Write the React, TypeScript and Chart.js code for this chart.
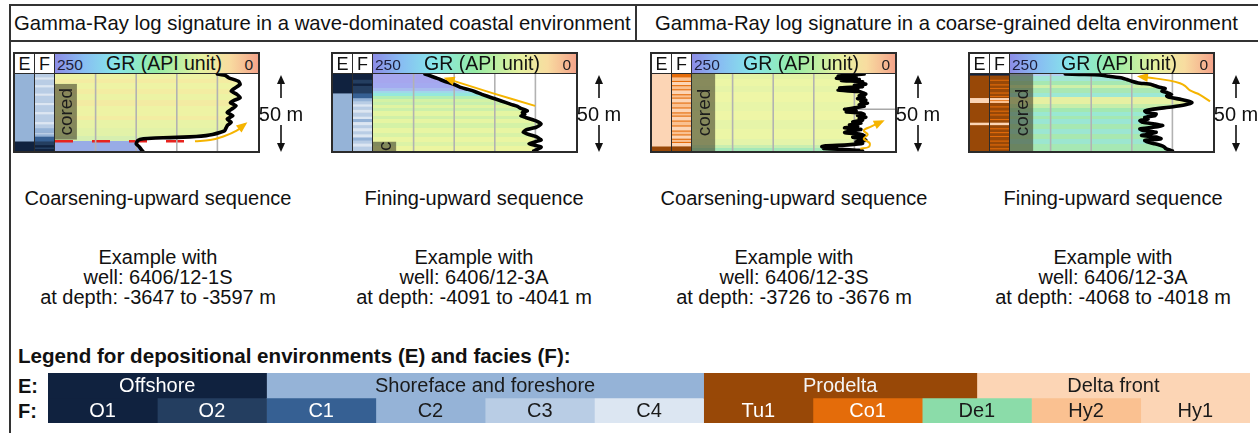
import React, { useEffect, useRef } from "react";
import { Chart, registerables } from "chart.js";

Chart.register(...registerables);

const FONT = '"Liberation Sans", Arial, Helvetica, sans-serif';

// ---------------- Legend data ----------------
const faciesCodes = ["O1", "O2", "C1", "C2", "C3", "C4", "Tu1", "Co1", "De1", "Hy2", "Hy1"];
const faciesSpan = [1, 1, 1, 1, 1, 1, 1, 1, 1, 1, 1];
const envNames = ["Offshore", "Shoreface and foreshore", "Prodelta", "Delta front"];
const envCodes = ["Off", "Sho", "Pro", "Del"];
const envSpan = [2, 4, 2.5, 2.5];
const legendRows = ["E:", "F:"];

// ---------------- Panel texts ----------------
const panelTitles = [
  "Coarsening-upward sequence",
  "Fining-upward sequence",
  "Coarsening-upward sequence",
  "Fining-upward sequence",
];
const panelWells = ["6406/12-1S", "6406/12-3A", "6406/12-3S", "6406/12-3A"];
const panelDepths = ["-3647 to -3597 m", "-4091 to -4041 m", "-3726 to -3676 m", "-4068 to -4018 m"];
const grTicks = [50, 100, 150, 200];

// ---------------- GR logs (depth in m below top of the 50 m window, GR in API) ----------------
const p1Depth = [0, 1, 2.5, 4.7, 6.8, 9, 11.1, 13.2, 15.4, 17, 18.6, 20.7, 23, 25, 27.1, 29.3, 31.4, 33, 34.6, 36.8, 38, 39.3, 40, 40.6, 41, 41.3, 41.6, 42.1, 43.2, 45.3, 47.4, 49.6, 50];
const p1GR = [50, 40, 36, 24, 22, 28, 33, 26, 22, 29, 34, 27, 33, 38, 31, 38, 33, 37, 39, 41, 47, 56, 64, 76, 92, 108, 126, 141, 148, 150, 146, 143, 142];
const p2Depth = [0, 1.5, 3, 4.7, 6.8, 8.5, 10, 11.5, 13.2, 15.4, 17.5, 19.7, 21, 22.3, 23.9, 25, 26.1, 27.2, 28.2, 30.3, 32.5, 34.6, 36.2, 37.8, 39.3, 40.7, 42.9, 45.3, 47.4, 49.6, 50];
const p2GR = [186, 178, 170, 162, 150, 143, 133, 124, 116, 104, 92, 80, 72, 68, 60, 66, 63, 68, 62, 50, 43, 49, 61, 65, 58, 49, 43, 58, 43, 50, 52];
const p3Depth = [0, 0.7, 1.4, 2.1, 2.8, 3.5, 4.2, 5, 5.8, 6.6, 7.4, 8.2, 9, 9.8, 10.6, 11.4, 12.2, 13, 14, 15, 16, 17, 18, 19, 20, 21, 22, 23, 23.8, 24.6, 25.4, 26.2, 27, 28, 29, 30, 31, 32, 33, 34, 35, 36, 37, 38, 39, 40, 41, 42, 43, 44, 45, 46, 46.6, 47.2, 47.8, 48.4, 49, 49.6, 50];
const p3GR = [38, 52, 70, 48, 72, 44, 66, 40, 44, 36, 50, 40, 68, 46, 70, 44, 40, 36, 44, 38, 46, 36, 42, 34, 44, 38, 50, 62, 48, 60, 42, 38, 46, 36, 44, 40, 52, 42, 56, 46, 62, 42, 54, 62, 44, 38, 52, 42, 36, 48, 40, 58, 86, 90, 72, 88, 62, 44, 40];
const p4Depth = [0, 0.3, 0.6, 1.5, 2.6, 3.6, 4.7, 5.8, 6.8, 8.5, 9.4, 11.1, 12.2, 13.2, 14.2, 15, 16.5, 17.6, 18.6, 20, 21.4, 22.9, 24, 25, 26, 27.1, 28.2, 29.3, 30.3, 31.4, 32.5, 33.5, 34.6, 35.7, 36.7, 37.8, 38.9, 39.9, 41, 42, 43.2, 44.2, 45.3, 46.4, 47.4, 48.5, 49.6, 50];
const p4GR = [182, 165, 140, 128, 112, 106, 100, 92, 76, 67, 59, 63, 56, 51, 57, 55, 39, 30, 26, 34, 51, 75, 84, 82, 70, 72, 84, 80, 90, 86, 72, 62, 74, 90, 86, 70, 78, 88, 70, 64, 84, 80, 72, 64, 60, 58, 52, 50];

// trend arrows
const p1ArrowDepth = [43.6, 42.9, 40.6, 36.8, 32.5];
const p1ArrowGR = [77.6, 59, 42.7, 26.3, 16];
const p2ArrowDepth = [20.7, 12.4, 3.0];
const p2ArrowGR = [50.4, 103, 159.5];
const p3ArrowDepth = [48.5, 47.4, 44.9, 42.1, 39.3, 36.7, 34.2, 30.8];
const p3ArrowGR = [42.7, 32.4, 31.2, 38.6, 33.6, 38.6, 29.6, 16];
const p4ArrowDepth = [17.8, 13.5, 10.7, 7.7, 6.0, 4.3, 3.0, 1.7];
const p4ArrowGR = [3.7, 16, 28.3, 34.5, 40.6, 53, 69.3, 90];

// cored intervals [top, bottom] and their GR edge
const p1Cored = [6.4, 42.7];
const p2Cored = [43.8, 50];
const p3Cored = [0, 50];
const p4Cored = [0, 50];
const coredEdgeGR = [223, 221.5, 221.5, 221.5];
const coredLabels = ["cored", "c", "cored", "cored"];

// surfaces
const p1SurfaceDepth = [43.6, 43.6];
const p1SurfaceGR = [250, 90];
const p3MarkDepth = [22.9, 22.9];
const p3MarkGR = [50, 0];

// environment (E) and facies (F) columns: [code, top, bottom]
type Seg = [string, number, number];
const p1Env: Seg[] = [["Sho", 0, 43.6], ["Off", 43.6, 50]];
const p1Fac: Seg[] = [["C3", 0, 2], ["C4", 2, 3.5], ["C3", 3.5, 7], ["C4", 7, 8.5], ["C3", 8.5, 12.5], ["C4", 12.5, 14], ["C3", 14, 18.5], ["C4", 18.5, 20], ["C3", 20, 24.5], ["C4", 24.5, 26], ["C3", 26, 31], ["C4", 31, 32.5], ["C3", 32.5, 35], ["C2", 35, 38], ["C3", 38, 39], ["C2", 39, 40.5], ["C1", 40.5, 43.6], ["O2", 43.6, 46], ["O1", 46, 47.5], ["O2", 47.5, 48.5], ["O1", 48.5, 50]];
const p2Env: Seg[] = [["Off", 0, 12.4], ["Sho", 12.4, 50]];
const p2Fac: Seg[] = [["O1", 0, 3.5], ["O2", 3.5, 6], ["O1", 6, 7.5], ["O2", 7.5, 12.4], ["C1", 12.4, 15.5], ["C2", 15.5, 17.5], ["C3", 17.5, 19.5], ["C4", 19.5, 21], ["C3", 21, 23], ["C4", 23, 25], ["C3", 25, 27.5], ["C4", 27.5, 29], ["C2", 29, 31], ["C4", 31, 33], ["C3", 33, 35], ["C4", 35, 37], ["C3", 37, 39], ["C4", 39, 41], ["C2", 41, 43], ["C3", 43, 45], ["C4", 45, 47], ["C3", 47, 50]];
const p3Env: Seg[] = [["Del", 0, 46.8], ["Pro", 46.8, 50]];
const p3Fac: Seg[] = [["Co1", 0, 2], ["Hy2", 2, 4.3], ["Co1", 4.3, 5], ["Hy1", 5, 7], ["Co1", 7, 7.7], ["Hy2", 7.7, 9.7], ["Co1", 9.7, 10.4], ["Hy1", 10.4, 12.9], ["Co1", 12.9, 13.6], ["Hy2", 13.6, 15.1], ["Co1", 15.1, 15.8], ["Hy1", 15.8, 18.3], ["Co1", 18.3, 19], ["Hy2", 19, 21.5], ["Co1", 21.5, 22.2], ["Hy1", 22.2, 24.7], ["Co1", 24.7, 25.4], ["Hy2", 25.4, 26.8], ["Co1", 26.8, 27.5], ["Hy1", 27.5, 30], ["Co1", 30, 30.7], ["Hy2", 30.7, 33.2], ["Co1", 33.2, 33.9], ["Hy1", 33.9, 36.5], ["Co1", 36.5, 37.2], ["Hy2", 37.2, 39], ["Co1", 39, 39.7], ["Hy1", 39.7, 41.8], ["Co1", 41.8, 42.5], ["Hy2", 42.5, 43.9], ["Co1", 43.9, 44.6], ["Hy1", 44.6, 46.8], ["Tu1", 46.8, 50]];
const p4Env: Seg[] = [["Off", 0, 0.8], ["Pro", 0.8, 15.4], ["Del", 15.4, 18.6], ["Pro", 18.6, 31.4], ["Del", 31.4, 33], ["Pro", 33, 50]];
const p4Fac: Seg[] = [["O1", 0, 0.8], ["Tu1", 0.8, 3.5], ["Co1", 3.5, 4.2], ["Tu1", 4.2, 6.5], ["Co1", 6.5, 7.2], ["Tu1", 7.2, 8.8], ["Co1", 8.8, 9.5], ["Tu1", 9.5, 11.8], ["Co1", 11.8, 12.5], ["Tu1", 12.5, 14], ["Co1", 14, 14.7], ["Tu1", 14.7, 15.4], ["Hy1", 15.4, 16.8], ["Co1", 16.8, 17.3], ["Hy2", 17.3, 18.6], ["Tu1", 18.6, 20.8], ["Co1", 20.8, 21.5], ["Tu1", 21.5, 23.6], ["Co1", 23.6, 24.3], ["Tu1", 24.3, 26], ["Co1", 26, 26.7], ["Tu1", 26.7, 29], ["Co1", 29, 29.7], ["Tu1", 29.7, 31.4], ["Hy1", 31.4, 33], ["Tu1", 33, 35], ["Co1", 35, 35.7], ["Tu1", 35.7, 37.5], ["Co1", 37.5, 38.2], ["Tu1", 38.2, 40], ["Co1", 40, 40.7], ["Tu1", 40.7, 43], ["Co1", 43, 43.7], ["Tu1", 43.7, 45.5], ["Co1", 45.5, 46.2], ["Tu1", 46.2, 48], ["Co1", 48, 48.7], ["Tu1", 48.7, 50]];

// ---------------- Styles ----------------
const FACIES_COLOR: Record<string, string> = {
  O1: "#10223f", O2: "#243e60", C1: "#366093", C2: "#95b3d7", C3: "#b9cde5", C4: "#dce6f2",
  Tu1: "#984807", Co1: "#e46c0a", De1: "#8bdca9", Hy2: "#fac191", Hy1: "#fcd5b5",
};
const FACIES_TEXT: Record<string, string> = {
  O1: "#ffffff", O2: "#ffffff", C1: "#ffffff", C2: "#1a1a1a", C3: "#1a1a1a", C4: "#1a1a1a",
  Tu1: "#ffffff", Co1: "#ffffff", De1: "#1a1a1a", Hy2: "#1a1a1a", Hy1: "#1a1a1a",
};
const ENV_COLOR: Record<string, string> = { Off: "#10223f", Sho: "#95b3d7", Pro: "#984807", Del: "#fcd5b5" };
const ENV_TEXT: Record<string, string> = { Off: "#ffffff", Sho: "#1a1a1a", Pro: "#f4f4f4", Del: "#1a1a1a" };

const p1Bands: [number, string][] = [[0, "#eef3a4"], [3, "#f4eca2"], [6, "#eef3a4"], [10, "#f3eda2"], [13, "#ecf3a4"], [17, "#f3eba2"], [21, "#eef3a4"], [27, "#f3eda2"], [30, "#e8f3a6"], [35, "#e2f2a8"], [40, "#d6efb0"], [43.6, "#98ace6"]];
const p2Bands: [number, string][] = [[0, "#a6a6ee"], [6, "#a4aaf0"], [9, "#a8bcee"], [11, "#a0d8ea"], [12.5, "#94e8dc"], [14, "#b4eeb4"], [16, "#d4f2a4"], [18, "#c8f0ac"], [20, "#e0f4a2"], [22, "#ccf0aa"], [24, "#e4f5a2"], [27, "#d0f0a8"], [29, "#e6f5a2"], [32, "#d4f2a6"], [35, "#e8f5a2"], [38, "#d8f2a6"], [41, "#eaf5a2"], [44, "#dcf3a6"], [47, "#ecf5a0"]];
const p3Bands: [number, string][] = [[0, "#e4f4a6"], [3, "#ecf6a6"], [8, "#e6f4a8"], [12, "#eef6a6"], [18, "#e8f5a8"], [24, "#eef6a6"], [30, "#e6f4a8"], [36, "#ecf6a6"], [42, "#e4f4aa"], [46, "#c8eeb0"], [48, "#a4e8b8"]];
const p4Bands: [number, string][] = [[0, "#b4d0f2"], [1.5, "#a2e6d6"], [4.7, "#a6e8b2"], [7.3, "#cff0a8"], [9.4, "#a8e8b4"], [12.2, "#9de8d4"], [15, "#e6f0a2"], [19.2, "#c6eeaa"], [21.8, "#a2e8b2"], [24.4, "#9ae8d2"], [27.1, "#a4e8b2"], [29.3, "#9ae6d4"], [32.5, "#a6e8b2"], [35.7, "#9ce6d2"], [38.9, "#a8e8b0"], [42.1, "#9ce6d0"], [45.3, "#a6e8b4"]];

const panelLeft = [13, 331, 650, 968];
const textCenter = [158, 474, 794, 1113];

const pts = (d: number[], g: number[]) => d.map((v, i) => ({ x: g[i], y: v }));

const panels = [
  { depth: p1Depth, gr: p1GR, bands: p1Bands, cored: p1Cored, arrow: pts(p1ArrowDepth, p1ArrowGR), env: p1Env, fac: p1Fac,
    extras: [{ data: pts(p1SurfaceDepth, p1SurfaceGR), color: "#e8231e", width: 2.5, dash: [18, 19] }] },
  { depth: p2Depth, gr: p2GR, bands: p2Bands, cored: p2Cored, arrow: pts(p2ArrowDepth, p2ArrowGR), env: p2Env, fac: p2Fac, extras: [] },
  { depth: p3Depth, gr: p3GR, bands: p3Bands, cored: p3Cored, arrow: pts(p3ArrowDepth, p3ArrowGR), env: p3Env, fac: p3Fac,
    extras: [{ data: pts(p3MarkDepth, p3MarkGR), color: "#a8a8a8", width: 1.5, dash: [] }] },
  { depth: p4Depth, gr: p4GR, bands: p4Bands, cored: p4Cored, arrow: pts(p4ArrowDepth, p4ArrowGR), env: p4Env, fac: p4Fac, extras: [] },
];

// ---------------- plugins ----------------
const logDecor = {
  id: "logDecor",
  beforeDatasetDraw(chart: any, args: any) {
    const ds = chart.data.datasets[args.index];
    if (ds.kind !== "curve") return;
    const { ctx, chartArea } = chart;
    const xs = chart.scales.x;
    ctx.save();
    ctx.strokeStyle = "#b2b2b2";
    ctx.lineWidth = 1.6;
    for (const v of grTicks) {
      const px = xs.getPixelForValue(v);
      ctx.beginPath();
      ctx.moveTo(px, chartArea.top);
      ctx.lineTo(px, chartArea.bottom);
      ctx.stroke();
    }
    ctx.restore();
  },
  afterDatasetsDraw(chart: any) {
    const { ctx } = chart;
    const xs = chart.scales.x;
    const ys = chart.scales.y;
    chart.data.datasets.forEach((ds: any, i: number) => {
      if (ds.kind === "arrow") {
        const el = chart.getDatasetMeta(i).data;
        const last = el[el.length - 1];
        const prev = el[el.length - 2];
        const ang = Math.atan2(last.y - prev.y, last.x - prev.x);
        ctx.save();
        ctx.translate(last.x, last.y);
        ctx.rotate(ang);
        ctx.fillStyle = ds.borderColor;
        ctx.beginPath();
        ctx.moveTo(3, 0);
        ctx.lineTo(-8, -4.5);
        ctx.lineTo(-8, 4.5);
        ctx.closePath();
        ctx.fill();
        ctx.restore();
      }
      if (ds.kind === "cored") {
        const cx = (xs.getPixelForValue(ds.data[0].x) + xs.getPixelForValue(250)) / 2;
        const cy = (ys.getPixelForValue(ds.data[0].y) + ys.getPixelForValue(ds.data[1].y)) / 2;
        ctx.save();
        ctx.translate(cx + 1, cy);
        ctx.rotate(-Math.PI / 2);
        ctx.fillStyle = "#1c1c1c";
        ctx.font = `19px ${FONT}`;
        ctx.textAlign = "center";
        ctx.textBaseline = "middle";
        ctx.fillText(ds.label, 0, 0);
        ctx.restore();
      }
    });
  },
};

const barLabels = {
  id: "barLabels",
  afterDatasetsDraw(chart: any) {
    const { ctx } = chart;
    chart.data.datasets.forEach((ds: any, i: number) => {
      const meta = chart.getDatasetMeta(i);
      meta.data.forEach((el: any, j: number) => {
        if (ds.data[j] == null) return;
        const p = el.getProps(["x", "y", "base"], true);
        ctx.save();
        ctx.fillStyle = ds.labelColor;
        ctx.font = `20px ${FONT}`;
        ctx.textAlign = "center";
        ctx.textBaseline = "middle";
        ctx.fillText(ds.label, (p.x + p.base) / 2, p.y + 1);
        ctx.restore();
      });
    });
  },
};

const baseOpts = {
  animation: false as const,
  responsive: false,
  maintainAspectRatio: false,
  layout: { padding: 0 },
  plugins: { legend: { display: false }, tooltip: { enabled: false } },
};

// ---------------- components ----------------
function LogChart({ idx }: { idx: number }) {
  const ref = useRef<HTMLCanvasElement>(null);
  useEffect(() => {
    const p = panels[idx];
    const bands = p.bands;
    const datasets: any[] = [];
    datasets.push({
      kind: "fill",
      data: pts(p.depth, p.gr),
      borderWidth: 0,
      pointRadius: 0,
      tension: 0.15,
      fill: { value: 250 },
      order: 6,
      backgroundColor: (c: any) => {
        const chart = c.chart;
        const area = chart.chartArea;
        if (!area) return "transparent";
        const ys = chart.scales.y;
        const h = area.bottom - area.top;
        const g = chart.ctx.createLinearGradient(0, area.top, 0, area.bottom);
        const clamp = (v: number) => Math.max(0, Math.min(1, v));
        bands.forEach(([d, col], i) => {
          const next = i < bands.length - 1 ? bands[i + 1][0] : 50;
          g.addColorStop(clamp((ys.getPixelForValue(d) - area.top) / h), col);
          g.addColorStop(clamp((ys.getPixelForValue(next) - area.top) / h - 0.0001), col);
        });
        return g;
      },
    });
    datasets.push({
      kind: "cored",
      label: coredLabels[idx],
      data: [{ x: coredEdgeGR[idx], y: p.cored[0] }, { x: coredEdgeGR[idx], y: p.cored[1] }],
      borderWidth: 0,
      pointRadius: 0,
      fill: { value: 250 },
      backgroundColor: "rgba(62,60,38,0.58)",
      order: 5,
    });
    p.extras.forEach((e: any) => {
      datasets.push({
        kind: "extra",
        data: e.data,
        borderColor: e.color,
        borderWidth: e.width,
        borderDash: e.dash,
        pointRadius: 0,
        fill: false,
        order: 4,
      });
    });
    datasets.push({
      kind: "curve",
      data: pts(p.depth, p.gr),
      borderColor: "#000000",
      borderWidth: 3.6,
      borderJoinStyle: "round",
      borderCapStyle: "round",
      pointRadius: 0,
      tension: 0.15,
      fill: false,
      order: 2,
    });
    datasets.push({
      kind: "arrow",
      data: p.arrow,
      borderColor: "#f5b400",
      borderWidth: 2,
      pointRadius: 0,
      tension: 0.35,
      fill: false,
      order: 1,
    });
    const chart = new Chart(ref.current as HTMLCanvasElement, {
      type: "line",
      data: { datasets },
      options: {
        ...baseOpts,
        indexAxis: "y",
        scales: {
          x: { type: "linear", min: 0, max: 250, reverse: true, display: false },
          y: { type: "linear", min: 0, max: 50, reverse: true, display: false },
        },
      } as any,
      plugins: [logDecor],
    });
    return () => chart.destroy();
  }, [idx]);
  return <canvas ref={ref} width={203} height={77} style={{ display: "block", width: 203, height: 77 }} />;
}

function ColumnChart({ segs, colors }: { segs: Seg[]; colors: Record<string, string> }) {
  const ref = useRef<HTMLCanvasElement>(null);
  useEffect(() => {
    const datasets = segs.map(([code, a, b]) => ({
      label: code,
      data: [[a, b]],
      backgroundColor: colors[code],
      borderWidth: 0,
      barPercentage: 1,
      categoryPercentage: 1,
      grouped: false,
    }));
    const chart = new Chart(ref.current as HTMLCanvasElement, {
      type: "bar",
      data: { labels: [""], datasets },
      options: {
        ...baseOpts,
        scales: {
          x: { display: false },
          y: { display: false, min: 0, max: 50, reverse: true },
        },
      } as any,
    });
    return () => chart.destroy();
  }, [segs, colors]);
  return <canvas ref={ref} width={19} height={77} style={{ display: "block", width: 19, height: 77 }} />;
}

function LegendChart() {
  const ref = useRef<HTMLCanvasElement>(null);
  useEffect(() => {
    const datasets: any[] = [];
    let s = 0;
    envCodes.forEach((code, i) => {
      datasets.push({
        label: envNames[i],
        data: [[s, s + envSpan[i]], null],
        backgroundColor: ENV_COLOR[code],
        labelColor: ENV_TEXT[code],
        borderWidth: 0,
        barPercentage: 1,
        categoryPercentage: 1,
        grouped: false,
      });
      s += envSpan[i];
    });
    s = 0;
    faciesCodes.forEach((code, i) => {
      datasets.push({
        label: code,
        data: [null, [s, s + faciesSpan[i]]],
        backgroundColor: FACIES_COLOR[code],
        labelColor: FACIES_TEXT[code],
        borderWidth: 0,
        barPercentage: 1,
        categoryPercentage: 1,
        grouped: false,
      });
      s += faciesSpan[i];
    });
    const total = faciesSpan.reduce((a, b) => a + b, 0);
    const chart = new Chart(ref.current as HTMLCanvasElement, {
      type: "bar",
      data: { labels: legendRows, datasets },
      options: {
        ...baseOpts,
        indexAxis: "y",
        scales: {
          x: { type: "linear", min: 0, max: total, display: false },
          y: { display: false },
        },
      } as any,
      plugins: [barLabels],
    });
    return () => chart.destroy();
  }, []);
  return <canvas ref={ref} width={1202} height={50} style={{ display: "block", width: 1202, height: 50 }} />;
}

function ScaleArrow({ x }: { x: number }) {
  return (
    <div style={{ position: "absolute", left: x - 30, top: 72, width: 60, height: 84 }}>
      <svg width={60} height={84} style={{ position: "absolute", left: 0, top: 0 }}>
        <line x1={30} y1={8} x2={30} y2={26} stroke="#111" strokeWidth={1.6} />
        <polygon points="30,3 26,12 34,12" fill="#111" />
        <line x1={30} y1={53} x2={30} y2={74} stroke="#111" strokeWidth={1.6} />
        <polygon points="30,80 26,71 34,71" fill="#111" />
      </svg>
      <div style={{ position: "absolute", left: -10, width: 80, top: 31, textAlign: "center", fontSize: 20, lineHeight: "22px", color: "#111" }}>
        50 m
      </div>
    </div>
  );
}

function Panel({ idx }: { idx: number }) {
  const L = panelLeft[idx];
  const p = panels[idx];
  return (
    <>
      <div style={{ position: "absolute", left: L, top: 52, width: 243, height: 97, border: "2px solid #2b2b2b", background: "#2b2b2b" }}>
        <div style={{ position: "absolute", left: 0, top: 0, width: 19, height: 19, background: "#fff", textAlign: "center", fontSize: 18, lineHeight: "20px", color: "#111" }}>E</div>
        <div style={{ position: "absolute", left: 20, top: 0, width: 19, height: 19, background: "#fff", textAlign: "center", fontSize: 18, lineHeight: "20px", color: "#111" }}>F</div>
        <div style={{
          position: "absolute", left: 40, top: 0, width: 203, height: 19, overflow: "visible",
          background: "linear-gradient(to right, #8c8ce6 0%, #88bdf2 14%, #86e6ea 30%, #96eca6 50%, #e6f2a0 72%, #f8dca0 86%, #f4a48a 100%)",
        }}>
          <span style={{ position: "absolute", left: 2, top: 0, fontSize: 15.5, lineHeight: "21px", color: "#1e1e3a" }}>250</span>
          <span style={{ position: "absolute", left: 51, top: -2, fontSize: 19.5, lineHeight: "22px", color: "#111", whiteSpace: "nowrap" }}>GR (API unit)</span>
          <span style={{ position: "absolute", right: 5, top: 0, fontSize: 15.5, lineHeight: "21px", color: "#1e1e1e" }}>0</span>
        </div>
        <div style={{ position: "absolute", left: 0, top: 20 }}>
          <ColumnChart segs={p.env} colors={ENV_COLOR} />
        </div>
        <div style={{ position: "absolute", left: 20, top: 20 }}>
          <ColumnChart segs={p.fac} colors={FACIES_COLOR} />
        </div>
        <div style={{ position: "absolute", left: 40, top: 20, width: 203, height: 77, background: "#fff" }}>
          <LogChart idx={idx} />
        </div>
      </div>
      <ScaleArrow x={L + 268} />
      <div style={{ position: "absolute", left: textCenter[idx] - 160, width: 320, top: 187, textAlign: "center", fontSize: 20, lineHeight: "22px", color: "#111" }}>
        {panelTitles[idx]}
      </div>
      <div style={{ position: "absolute", left: textCenter[idx] - 160, width: 320, top: 247, textAlign: "center", fontSize: 20, lineHeight: "20px", color: "#111" }}>
        <div>Example with</div>
        <div>well: {panelWells[idx]}</div>
        <div>at depth: {panelDepths[idx]}</div>
      </div>
    </>
  );
}

export default function App() {
  return (
    <div style={{ position: "absolute", left: 0, top: 0, width: 1258, height: 433, background: "#fff", fontFamily: FONT, overflow: "hidden" }}>
      <div style={{ position: "absolute", left: 9, top: 4, width: 1249, height: 2, background: "#333" }} />
      <div style={{ position: "absolute", left: 9, top: 40, width: 1249, height: 2, background: "#333" }} />
      <div style={{ position: "absolute", left: 9, top: 4, width: 2, height: 429, background: "#333" }} />
      <div style={{ position: "absolute", left: 635, top: 4, width: 2, height: 37, background: "#333" }} />
      <div style={{ position: "absolute", left: 14, top: 12, fontSize: 20.3, lineHeight: "22px", whiteSpace: "nowrap", color: "#111" }}>
        Gamma-Ray log signature in a wave-dominated coastal environment
      </div>
      <div style={{ position: "absolute", left: 655, top: 12, fontSize: 20.3, lineHeight: "22px", whiteSpace: "nowrap", color: "#111" }}>
        Gamma-Ray log signature in a coarse-grained delta environment
      </div>
      {[0, 1, 2, 3].map((i) => (
        <Panel key={i} idx={i} />
      ))}
      <div style={{ position: "absolute", left: 18, top: 345, fontSize: 20.6, fontWeight: "bold", lineHeight: "22px", whiteSpace: "nowrap", color: "#111" }}>
        Legend for depositional environments (E) and facies (F):
      </div>
      {legendRows.map((r, i) => (
        <div key={r} style={{ position: "absolute", left: 18, top: 374 + i * 25, fontSize: 20, fontWeight: "bold", lineHeight: "24px", color: "#111" }}>
          {r}
        </div>
      ))}
      <div style={{ position: "absolute", left: 48, top: 373 }}>
        <LegendChart />
      </div>
    </div>
  );
}
